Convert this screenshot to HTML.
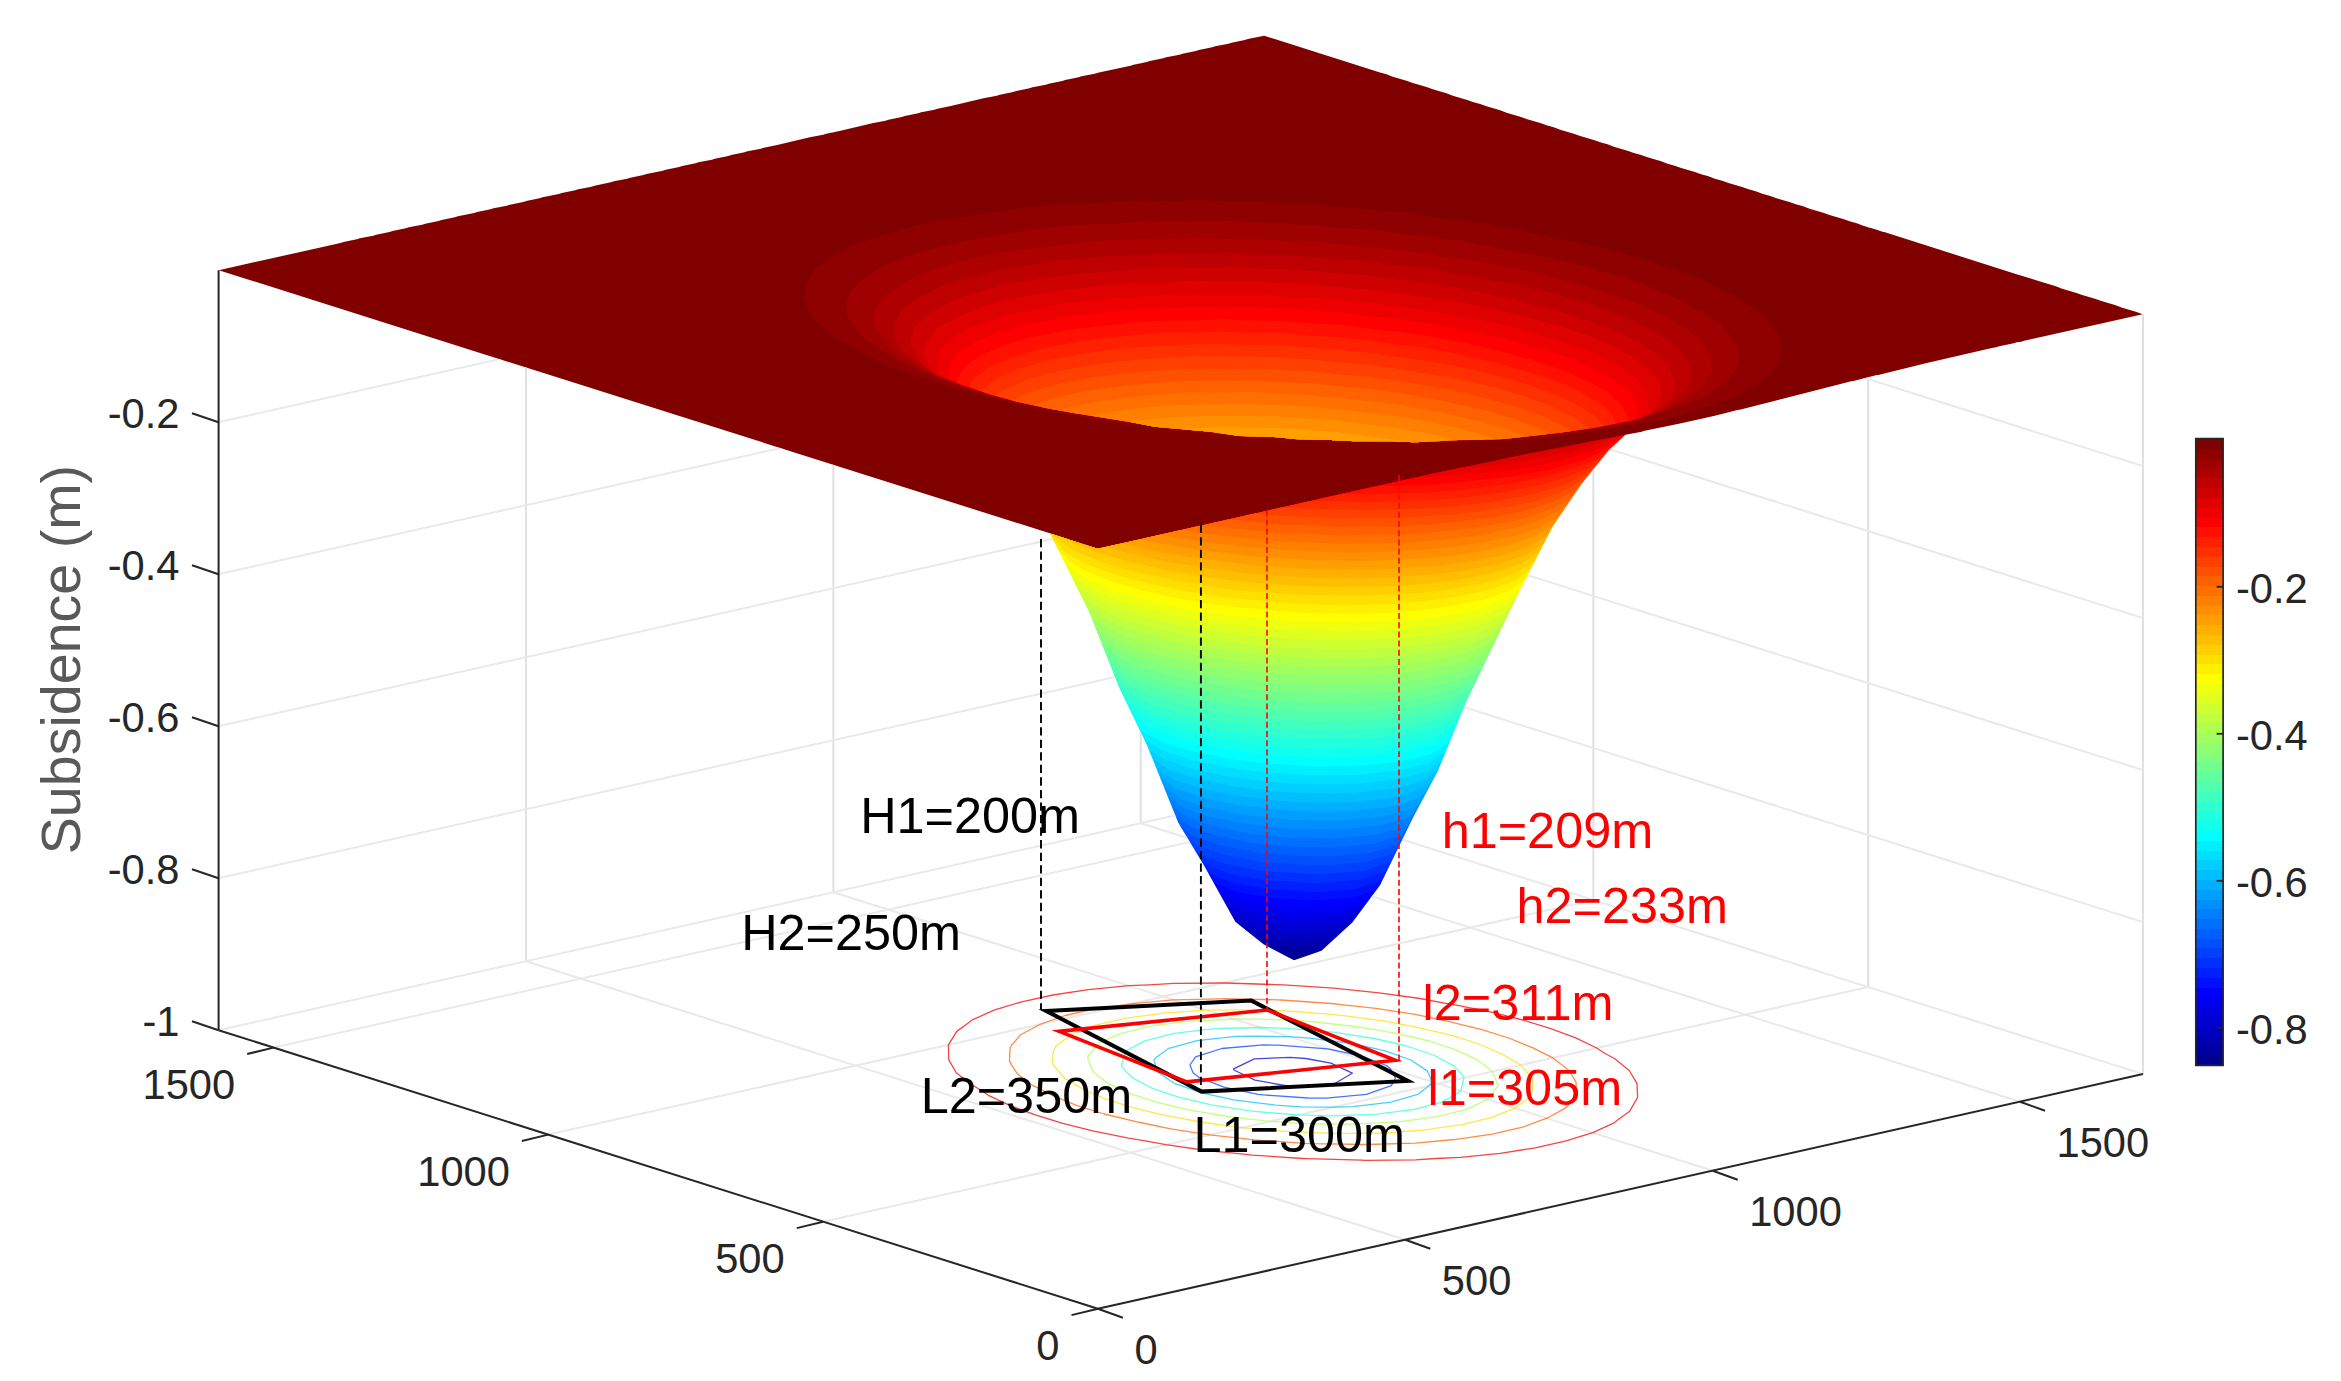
<!DOCTYPE html>
<html lang="en"><head><meta charset="utf-8"><title>Subsidence basin</title>
<style>html,body{margin:0;padding:0;background:#fff}svg{display:block}</style></head>
<body>
<svg width="2341" height="1381" viewBox="0 0 2341 1381">
<rect width="2341" height="1381" fill="#fff"/>
<g stroke="none">
<path fill="#800000" d="M2145,314.8l-1.2,1.5-2,.7-142,31.7-3,1-4.3,.6-65,15-26.7,6.7-1.3,0-184,46-61.7,13.7-26,5-2.3,1-15.2,14.5-26.6,33-29,42.6-32.4,63-54.6,113.7-27.4,67-25.6,48-32.7,67-27.7,37.3-31.5,28.9-27.3,9.6-2.7,0-30.6-16-26.7-21-2.2-2.1-31.3-56.4-25.7-42.6-2-4-29.6-74.4-28-58-30-75.3-38.5-77.2-47.4-14.6-6.3-2.4-87.3-27.3-6.4-2.3-107.3-33.7-86.3-27.7-7.4-2-80-25.6-13.6-4-93.7-30-1,0-146.3-46.7-87.4-27.3-6.3-2.4-33.7-10.3-6.3-2.3-7.3-2-6.7-2.4-1.2-1.5 0-1.3 1.9-1.8 7.3-1.4 3-1 209.3-46.6 19.4-4.7 16.3-3.3 3-1 46-10 19.3-4.7 16.4-3.3 35.6-8.4 16.4-3.3 35.6-8.3 16.4-3.4 3-1 111.3-24.6 3-1 170.7-38 3-1 75.6-16.7 3-1 13.4-2.7 3-1 13.3-2.6 3-1 13.3-2.7 3-1 13.4-2.7 3-1 16.3-3.3 3-1 13.3-2.7 3-1 13.4-2.6 3-1 13.3-2.7 3-1 13.3-2.7 3-1 13.4-2.6 3-1 13.3-2.7 3-1 13.3-2.7 3-1 13.4-2.6 3-1 15-3.4 2.6,0 115,36.7 7.4,2 6.3,2.3 13.7,4 6.3,2.4 13.7,4 6.3,2.3 13.7,4 6.3,2.3 13.7,4 6.3,2.4 7.3,2 6.4,2.3 13.6,4 6.4,2.3 13.6,4 6.4,2.4 13.6,4 6.4,2.3 7.3,2 6.3,2.3 13.7,4 6.3,2.4 13.7,4 6.3,2.3 7.4,2 6.3,2.3 13.7,4 6.3,2.4 7.3,2 6.4,2.3 13.6,4 6.4,2.3 7.3,2 6.3,2.4 13.7,4 6.3,2.3 7.4,2 6.3,2.3 7.3,2 6.4,2.4 13.6,4 6.4,2.3 7.3,2 6.3,2.3 7.4,2 6.3,2.4 13.7,4 6.3,2.3 7.3,2 6.4,2.3 13.6,4 6.4,2.4 13.6,4 6.4,2.3 7.3,2 6.3,2.3 13.7,4 6.3,2.4 1,0 131.7,42 40,12.3 6.3,2.3 13.7,4 6.3,2.4 13.7,4 6.3,2.3 13.7,4 6.3,2.3 13.7,4 7.3,2.7 1.2,1.5z"/>
<path fill="#8f0000" d="M1781.4,346.2l-1.6,12.6-7.8,14-9,7-5.8,5.4-8.7,4-9.9,6.6-24.3,9-26.2,8.4-29.8,7.3-34.5,6.2-30.6,4.8-30,4.2-11.7,.8-18.3,2.3-23.7,.6-6,.5-8-.1-21.3,2.1-11.6-.1-18.4,1.5-25.4-1.1-33.3,1.6-29.7-2.2-28.6,.8-26.2-2.9-31.5-.1-20.8-2.9-9.5-.5-7.4-1.2-20-.5-12.8-2.1-16.2-.8-32.3-5.5-24.3-1.9-12.8-2.5-15.9-1.7-22-4.6-6.3-.9-27-6.1-29-5.1-28-6.4-27.7-7.4-41.3-12.8-25-9.3-15.4-7.4-6.6-2.6-13.5-8-23.9-13-8-8.5-5.3-3.5-3.2-4.7-7.3-8-3.7-14 2.1-14 8.1-13.7 7.8-6 7.1-6.3 10.1-4.6 9.3-6 24.4-8.8 26.3-8.3 29.7-7.2 35-6.1 30.3-4.8 30.3-4.1 12-.8 18-2.2 34.7-.9 24.3-2.2 12,.1 17.7-1.4 23,1.1 35.7-1.6 30,2.4 28.3-.9 31.7,3.3 26.3-.1 20.3,2.8 8.4,.2 12.6,1.9 16,.4 10.7,1.7 18,.9 37,6.2 20,1.5 10.3,2.1 18.4,1.9 20,4.3 8.3,1.1 36.7,8.5 19.3,3.4 28,6.2 27.7,7.4 38.6,12.1 25,9.4 21.7,10 8,4.8 12,5.5 2.7,2.2 15.6,8.5 9.7,10.1 3,2 1.9,2.7 9,9.6zM1261.2,945.7l-25.7-20.4-2.2-2.1-31.3-56.4-25.7-42.6-2-4-29.6-74.4-28-58-30-75.3-38.4-76.7 .4-1 1.1-1.1 1,0 44.4,14.3 3.3,.7 30-7 13.3-2.7 3-1 13.4-2.7 3-1 13.3-2.6 3-1 13.3-2.7 3-1 13.4-2.7 3-1 13.3-2.6 3-1 16.3-3.4 3-1 13.4-2.6 3-1 13.3-2.7 3-1 16.3-3.3 3-1 16.4-3.4 3-1 122-27 56.6-11.6 1.7-.7 21.3-4 1.7-.7 104.7-20.3 1.1,1.2 0,1-16,15-26.6,33-29,42.6-32.4,63-54.6,113.7-27.4,67-25.6,48-30.4,62.3-3.6,6.7-26.4,35.3-28.8,26.5-4,3-25,8.4-1,.6-2.7,0z"/>
<path fill="#9f0000" d="M1739.1,356.2l-1.6,9.6-2.2,5.7-12.6,12.7-15.5,11.6-18,7.3-4.6,2.4-27.4,8.6-27.6,7.1-25.8,4.9-38.3,5.9-61.7,7-56,1.3-.3,.4-28.7,1.3-.3,.3-8.3,0-.4-.3-15.3-.3-.3-.4-42.4,0-.3-.3-19.3-.7-.4-.3-34.3-.7-26.3-2.6-32-.7-28.7-4.3-56-5-24.3-4.7-58.4-9.2-27-4.8-32-7.3-38.6-10.8-29-9.4-25.2-9.7-13.5-6.9-7.6-3.1-34.3-21.6-9.1-11.8-1.5-1.2-7.3-13-.4-7 1.7-8.4 2.8-6.7 13-12.6 2-1 14-10.3 19-7.5 4.4-2.2 26.3-8.1 31.7-7.8 60.6-10.4 30.4-4 14.3-.9 15.7-1.7 28.3-.6 30.7-2.5 16.3,.4 13-.9 16.3,.9 13-.8 10,.7 19.4-.9 19.6,1.8 9.4-.2 9.3,.9 20-.2 16.7,2 12,.1 16.6,2.1 12,.2 9.4,1.4 19.6,.7 36,5.6 21,1.5 11.4,2.1 17.3,1.7 21.7,4.4 6.6,.9 26,5.7 30.4,5.2 28,6.4 41.3,11.4 27.3,8.9 24.4,9.4 16,8.2 5,2 9.5,6.1 9.1,4.6 2.7,2.5 14,8.8 9.7,12.4 .6,1.8 6.9,11.5zM1261.2,945.7l-25.7-20.4-2.2-2.1-31.3-56.4-25.7-42.6-2-4-29.6-74.4-28-58-30-75.3-38.4-76.7 .4-1 1.1-1.1 1,0 44.4,14.3 3.3,.7 30-7 13.3-2.7 3-1 13.4-2.7 3-1 13.3-2.6 3-1 13.3-2.7 3-1 13.4-2.7 3-1 13.3-2.6 3-1 16.3-3.4 3-1 13.4-2.6 3-1 13.3-2.7 3-1 16.3-3.3 3-1 16.4-3.4 3-1 122-27 56.6-11.6 1.7-.7 21.3-4 1.7-.7 104.7-20.3 1.1,1.2 0,1-16,15-26.6,33-29,42.6-32.4,63-54.6,113.7-27.4,67-25.6,48-30.4,62.3-3.6,6.7-26.4,35.3-28.8,26.5-4,3-25,8.4-1,.6-2.7,0z"/>
<path fill="#af0000" d="M1712.3,366.8l-1.4,7.4-9.3,13.6-8.1,5.2-7.5,6.5-14,6.3-6.9,3.7-21.3,7.7-17.6,4.5-1.7,0-27.7,5.6-24.3,3.4-2.3,.6-66.4,7.7-56,1.3-.3,.4-28.7,1.3-.3,.3-8.3,0-.4-.3-15.3-.3-.3-.4-42.4,0-.3-.3-19.3-.7-.4-.3-34.3-.7-26.3-2.6-32-.7-25.7-4-61-5.7-22.3-4.3-50.4-8.3-4-.4-29.6-5.3-29-6.3-28-7.7-27-9-27.4-10.7-18.1-8.1-7.5-5.4-9.6-5-9.1-8.6-3.9-3-2.4-4.2-7.9-8.5-1.9-6.3-1.2-8 1.7-8.4 9.6-13.3 10.3-6.5 6.4-5.3 11.9-5.2 9-4.7 24.7-8.8 29-7.4 33-6.2 11.7-1.8 59.7-6.7 30-2.8 19.3-.3 10-.8 14.7,.3 15-1 9,.2 20.3-1.1 23.7,1.5 34.6-.5 23.4,2.3 5.6,0 6.4,.6 22.6,.2 18,2.3 11,.3 17.4,2.5 11,.5 7.3,1.1 21.7,1.4 21.6,3.8 6.7,.6 18.7,3.5 9.6,1 28.4,4 14.3,3.1 14,2.5 28,6.5 27.7,7.3 24.6,7.2 27,8.8 24.7,9.4 5.7,3.1 16,6.9 10.3,7.3 7,3.6 7.1,6.6 6.6,5 4,6.7 5.7,6 1.5,4.7zM1261.2,945.7l-25.7-20.4-2.2-2.1-31.3-56.4-25.7-42.6-2-4-29.6-74.4-28-58-30-75.3-38.4-76.7 .4-1 1.1-1.1 1,0 44.4,14.3 3.3,.7 30-7 13.3-2.7 3-1 13.4-2.7 3-1 13.3-2.6 3-1 13.3-2.7 3-1 13.4-2.7 3-1 13.3-2.6 3-1 16.3-3.4 3-1 13.4-2.6 3-1 13.3-2.7 3-1 16.3-3.3 3-1 16.4-3.4 3-1 122-27 56.6-11.6 1.7-.7 21.3-4 1.7-.7 104.7-20.3 1.1,1.2 0,1-16,15-26.6,33-29,42.6-32.4,63-54.6,113.7-27.4,67-25.6,48-30.4,62.3-3.6,6.7-26.4,35.3-28.8,26.5-4,3-25,8.4-1,.6-2.7,0z"/>
<path fill="#bf0000" d="M1691.6,377.8l-1.1,4-5.7,11-13.9,11.7-7.7,3.5-7.4,4.3-17.6,6.4-12,3-1.7,0-27.7,5.6-31.3,4.7-61.7,7-56,1.3-.3,.4-28.7,1.3-.3,.3-8.3,0-.4-.3-15.3-.3-.3-.4-42.4,0-.3-.3-19.3-.7-.4-.3-34.3-.7-26.3-2.6-32-.7-25.7-4-61-5.7-22.3-4.3-50.4-8.3-4-.4-29.6-5.3-29-6.3-28-7.7-27-9-27.4-10.7-3.6-1.8-6.7-4.7-9.3-5.6-3.5-4-9.9-7.7-7.1-13-.4-12.3 .9-2.8 6.3-11.8 14.7-11.9 9-3.9 11-6.4 25.4-8.6 29.2-7.3 32.4-6.4 26-4 30-3.7 29.6-2.2 16.4-.2 13.3-1.3 6.3,0 23.4-1.7 32.6,.9 26-1.1 21.7,1.6 7.3-.1 6.7,.6 22.7-.1 26.3,2.8 31.3,1.1 21.4,3 7.3,.4 13.3,2.1 15,1 9,1.5 19.7,1.8 20.7,3.9 7.6,1 27.7,5.8 28.7,4.9 28,6.3 41.6,11.5 26.6,8.9 14.1,6.2 9.3,3.4 19.7,10.6 3.5,2.5 14.2,8.2 5.6,6.3 7.7,5.9 7.4,12.9zM1261.2,945.7l-25.7-20.4-2.2-2.1-31.3-56.4-25.7-42.6-2-4-29.6-74.4-28-58-30-75.3-38.4-76.7 .4-1 1.1-1.1 1,0 44.4,14.3 3.3,.7 30-7 13.3-2.7 3-1 13.4-2.7 3-1 13.3-2.6 3-1 13.3-2.7 3-1 13.4-2.7 3-1 13.3-2.6 3-1 16.3-3.4 3-1 13.4-2.6 3-1 13.3-2.7 3-1 16.3-3.3 3-1 16.4-3.4 3-1 122-27 56.6-11.6 1.7-.7 21.3-4 1.7-.7 104.7-20.3 1.1,1.2 0,1-16,15-26.6,33-29,42.6-32.4,63-54.6,113.7-27.4,67-25.6,48-30.4,62.3-3.6,6.7-26.4,35.3-28.8,26.5-4,3-25,8.4-1,.6-2.7,0z"/>
<path fill="#cf0000" d="M1675.2,382.8l-3.8,13.4-1,2-3.9,3.2-7.7,8.4-6,3.5-14.6,5.4-12,3-1.7,0-20.7,4.3-15.6,2.7-25.4,3.6-59,6.7-56,1.3-.3,.4-28.7,1.3-.3,.3-8.3,0-.4-.3-15.3-.3-.3-.4-42.4,0-.3-.3-19.3-.7-.4-.3-34.3-.7-26.3-2.6-32-.7-28.7-4.3-56-5-24.3-4.7-50.4-8.3-4-.4-29.6-5.3-29-6.3-28-7.7-27-9-27.7-11-8.5-5.5-9.5-11-1.5-4.7-4.7-8.6-.2-3.7 3.9-12 1.8-3.3 6-4.7 7.4-7.6 10-5.1 9-5.2 7.3-2.4 17-6.8 28.3-7.5 16.7-3.3 30.3-5.2 30-3.6 17.7-1.1 42.3-4 18.4-.2 11-.7 14.6,.4 14.7-.8 10,.4 19.3-.8 21,1.5 8-.2 8,.7 21.4-.1 18.3,2 10.3,.1 14.4,1.8 14.6,.4 10.4,1.4 18.3,1 35.7,5.5 21.3,2 10.7,2 18,2.3 28,5.5 28,6.4 28.9,7.2 29.4,8.2 26.7,9.1 23.3,9.6 21,10.1 6.7,5.4 10,5.9 11,12.1 2.9,8.6 2.9,5zM1261.2,945.7l-25.7-20.4-2.2-2.1-31.3-56.4-25.7-42.6-2-4-29.6-74.4-28-58-30-75.3-38.4-76.7 .4-1 1.1-1.1 1,0 44.4,14.3 3.3,.7 30-7 13.3-2.7 3-1 13.4-2.7 3-1 13.3-2.6 3-1 13.3-2.7 3-1 13.4-2.7 3-1 13.3-2.6 3-1 16.3-3.4 3-1 13.4-2.6 3-1 13.3-2.7 3-1 16.3-3.3 3-1 16.4-3.4 3-1 122-27 56.6-11.6 1.7-.7 21.3-4 1.7-.7 104.7-20.3 1.1,1.2 0,1-16,15-26.6,33-29,42.6-32.4,63-54.6,113.7-27.4,67-25.6,48-30.4,62.3-3.6,6.7-26.4,35.3-28.8,26.5-4,3-25,8.4-1,.6-2.7,0z"/>
<path fill="#df0000" d="M1661.4,393.8l-2.8,10.7-8.4,9.7-12,4.5-12,3-1.7,0-29.7,6-32,4.6-59,6.7-56,1.3-.3,.4-28.7,1.3-.3,.3-8.3,0-.4-.3-15.3-.3-.3-.4-42.4,0-.3-.3-19.3-.7-.4-.3-34.3-.7-26.3-2.6-26.4-.4-.3-.3-5.3,0-28.7-4.3-56-5-24.3-4.7-50.4-8.3-4-.4-29.6-5.3-29-6.3-28-7.7-27-9-24.7-9.7-10-10.1-3-10-.4-4 3.6-12 11.8-12.7 14-7.1 5.3-3.5 24.4-9 27.6-7.6 33.4-6.3 33-4.6 30-3.5 29.6-2.3 27-.2 32-1.8 21.7,.9 7.7-.3 8,.5 21.3-.4 20.3,1.7 37.7,1.1 30,3.6 27.3,1.5 17,2.6 11.7,1 27.7,4.8 29,3.7 28.3,5.3 28,6.3 21.7,5.6 29,8.4 26.3,8.9 23.3,9.5 9,5.5 11,5.2 14.2,11.5 11.8,12.1 3,8.9zM1261.2,945.7l-25.7-20.4-2.2-2.1-31.3-56.4-25.7-42.6-2-4-29.6-74.4-28-58-30-75.3-38.4-76.7 .4-1 1.1-1.1 1,0 44.4,14.3 3.3,.7 30-7 13.3-2.7 3-1 13.4-2.7 3-1 13.3-2.6 3-1 13.3-2.7 3-1 13.4-2.7 3-1 13.3-2.6 3-1 16.3-3.4 3-1 13.4-2.6 3-1 13.3-2.7 3-1 16.3-3.3 3-1 16.4-3.4 3-1 122-27 56.6-11.6 1.7-.7 33-6.6 13.7-2 27.3-5.2 15-3.8 38.7-7.4 1.1,1.2 0,1-16,15-26.6,33-29,42.6-32.4,63-54.6,113.7-27.4,67-25.6,48-30.4,62.3-3.6,6.7-26.4,35.3-28.8,26.5-4,3-25,8.4-1,.6-2.7,0z"/>
<path fill="#ef0000" d="M1648.7,406.8l-1.1,4.4-4.9,5.6-4.5,1.9-12,3-1.7,0-27.7,5.6-31.3,4.7-61.7,7-56,1.3-.3,.4-28.7,1.3-.3,.3-8.3,0-.4-.3-15.3-.3-.3-.4-42.4,0-.3-.3-19.3-.7-.4-.3-34.3-.7-26.3-2.6-32-.7-28.7-4.3-56-5-24.3-4.7-50.4-8.3-4-.4-29.6-5.3-29-6.3-28-7.7-27-9-18.7-7.4-5-5.1-1-3.3-.8-10.7 1.6-5.7 11.6-12.6 17.3-11.4 17-6.1 7-3.1 28.3-7.5 32.7-6.5 24.3-3.7 30-3.5 29.7-1.8 10.3-.1 19.3-1.6 10,0 19.4-1.1 25,1 33.6-.5 32.7,2.4 25.3,.4 19.7,2.4 9,.4 14.7,2 14,.8 8.6,1.3 20,1.7 28.4,4.6 20.6,4 36,5.9 28,6.3 44,12.2 26,9 12,5.5 10.7,4.2 18.3,10.8 15.6,11.3 6.4,10 2.8,3 .7,2zM1261.2,945.7l-25.7-20.4-2.2-2.1-31.3-56.4-25.7-42.6-2-4-29.6-74.4-28-58-30-75.3-38.4-76.7 .4-1 1.1-1.1 1,0 44.4,14.3 3.3,.7 30-7 13.3-2.7 3-1 13.4-2.7 3-1 13.3-2.6 3-1 13.3-2.7 3-1 13.4-2.7 3-1 13.3-2.6 3-1 16.3-3.4 3-1 13.4-2.6 3-1 13.3-2.7 3-1 16.3-3.3 3-1 16.4-3.4 3-1 22.3-4.6 3-1 118.7-25.9 20.3-1.3 30-3.6 24.7-3.8 32-6.5 28.3-7.7 7.3-3.4 13.8-5 7.6-1.5 1.1,1.2 0,1-16,15-26.6,33-29,42.6-32.4,63-54.6,113.7-27.4,67-25.6,48-30.4,62.3-3.6,6.7-26.4,35.3-28.8,26.5-4,3-25,8.4-1,.6-2.7,0z"/>
<path fill="#ff0000" d="M1637.2,417.8l-.4,1-10.6,2.9-1.7,0-29.7,6-32,4.6-59,6.7-56,1.3-.3,.4-28.7,1.3-.3,.3-8.3,0-.4-.3-15.3-.3-.3-.4-42.4,0-.3-.3-19.3-.7-.4-.3-34.3-.7-26.3-2.6-32-.7-28.7-4.3-56-5-24.3-4.7-50.4-8.3-4-.4-29.6-5.3-29-6.3-28-7.7-27-9-13.5-5.5 .1-13 9.4-13.7 17.6-11.3 7-2.5 15.7-6.9 28-7.7 32.7-6.4 16.6-2.6 29.7-3.4 22.3-1.2 37.4-3.1 18.6,0 10.7-.6 14,.5 15.3-.6 12.4,.6 17-.4 17,1.4 12,0 14,1.3 15,.3 11.6,1.4 17.4,.7 28,3.9 29,2.4 15.3,2.7 13.3,1.6 56.4,11 27.6,6.1 37.7,10.5 25.7,9 22,10 19,10.6 4,4 10.6,7.5 5.8,8.9 2.3,4.3zM1261.2,945.7l-25.7-20.4-2.2-2.1-31.3-56.4-25.7-42.6-2-4-29.6-74.4-28-58-30-75.3-38.4-76.7 .4-1 1.1-1.1 1,0 44.4,14.3 3.3,.7 314.7-70.6 69-4.8 30-3.6 17-2.7 32-6.4 28-8 16-7.3 6-2.2 11.5-7.6 2.5-.5 1.1,1.2 0,1-16,15-26.6,33-29,42.6-32.4,63-54.6,113.7-27.4,67-25.6,48-30.4,62.3-3.6,6.7-26.4,35.3-28.8,26.5-4,3-25,8.4-1,.6-2.7,0z"/>
<path fill="#ff1000" d="M1628.1,420.8l-1.9,.9-1.7,0-27.7,5.6-24.3,3.4-2.3,.6-66.4,7.7-56,1.3-.3,.4-28.7,1.3-.3,.3-8.3,0-.4-.3-15.3-.3-.3-.4-42.4,0-.3-.3-19.3-.7-.4-.3-34.3-.7-26.3-2.6-32-.7-28.7-4.3-56-5-24.3-4.7-58.4-9.3-27.3-5-4.7-1.4-22.6-4.6-28-7.7-30.4-10.4-1.2-.8 0-3.3 2.9-6.1 5.7-8.1 17.4-11.1 22.2-9.6 27.7-7.9 32.3-6.3 9.4-1.4 59.6-6.5 29.7-2.1 32.3,0 26.7-1.1 20.7,1 8.3-.1 8.3,.6 21,.1 24,2.2 33.7,1.6 41,5.5 16,1.3 8.7,1.5 20,2.4 28.3,5.3 28,6.1 29,7.1 26.7,7.5 28.3,10 22.7,9.8 3,2 16,8.5 9.3,9.3 3.9,2.8 7.4,12.8zM1261.2,945.7l-25.7-20.4-2.2-2.1-31.3-56.4-25.7-42.6-2-4-29.6-74.4-28-58-30-75.3-38.4-76.7 .4-1 1.1-1.1 1,0 44.4,14.3 3.3,.7 280-62.9 44.7-.5 30-2.3 59.6-6.6 9.7-1.5 32-6.4 27.7-8.3 21.3-9.4 3.3-2.7 13.4-8.5 1.5,1.6-11.4,11-26.6,33-29,42.6-32.4,63-54.6,113.7-27.4,67-25.6,48-30.4,62.3-3.6,6.7-26.4,35.3-28.8,26.5-4,3-25,8.4-1,.6-2.7,0z"/>
<path fill="#ff2000" d="M1615.8,423.5l-19,3.8-31.3,4.7-61.7,7-56,1.3-.3,.4-28.7,1.3-.3,.3-8.3,0-.4-.3-15.3-.3-.3-.4-42.4,0-.3-.3-19.3-.7-.4-.3-34.3-.7-26.3-2.6-32-.7-28.7-4.3-56-5-24.3-4.7-58.4-9.3-27.3-5-4.7-1.4-22.6-4.6-25.7-7-19.3-6.4-3.2-1.5 3-6 2.2-2.9 5.6-3.5 10.4-8.2 23-9.2 27-8 32.6-6.3 31.7-4.5 29.7-3.2 30-1.9 20.6,0 38.4-1.5 28.3,1.4 30,.1 33.3,3 24.4,1.1 16.3,2.2 12.3,.9 24.7,3.8 32,3.9 28.7,5.1 27.6,6.1 24.4,6.1 28.6,8.4 26,9.1 22.4,9.7 8,5.5 10.3,5.5 12.1,12zM1261.2,945.7l-25.7-20.4-2.2-2.1-31.3-56.4-25.7-42.6-2-4-29.6-74.4-28-58-30-75.3-38.4-76.7 .4-1 1.1-1.1 1,0 44.4,14.3 3.3,.7 245.7-55.2 20.6,.9 35.7-1.5 23.3-.1 29.7-2 30-3.3 32-4.7 32-6.3 27-8.2 22.7-9.4 11.2-9.4 3.1-2 1.7,1.7-29.5,36-29,42.6-32.4,63-54.6,113.7-27.4,67-25.6,48-30.4,62.3-3.6,6.7-26.4,35.3-28.8,26.5-4,3-25,8.4-1,.6-2.7,0z"/>
<path fill="#ff3000" d="M1604.2,425.5l-7.4,1.8-31.3,4.7-61.7,7-56,1.3-.3,.4-28.7,1.3-.3,.3-8.3,0-.4-.3-15.3-.3-.3-.4-42.4,0-.3-.3-19.3-.7-.4-.3-34.3-.7-26.3-2.6-32-.7-28.7-4.3-56-5-24.3-4.7-58.4-9.3-27.3-5-4.7-1.4-22.6-4.6-28-7.7-7-2.4-1.1-.8 15.1-12.4 15.3-6.1 7-3.5 27.7-7.8 32.3-6.5 25.3-3.7 30-3.3 29.7-1.7 10,0 19.7-1.2 11.6,.1 17.7-.7 21,1 37.3,.3 19,1.8 10,.3 13.4,1.5 15.3,.7 10.7,1.4 18.3,1.4 37.7,5.9 19,2.3 28.3,4.9 28,6.1 19.7,5 28.6,8.3 26,9.3 8,4.1 13.9,5.9 12.1,8.4 4.7,2.5zM1261.2,945.7l-25.7-20.4-2.2-2.1-31.3-56.4-25.7-42.6-2-4-29.6-74.4-28-58-30-75.3-38.4-76.7 .4-1 1.1-1.1 1,0 44.4,14.3 3.3,.7 211.3-47.5 32.4,.1 23,1.1 19.6-.8 10,0 17.4-1.1 12-.1 29.6-1.8 30.4-3.4 25.6-3.9 31.7-6.5 27.3-8 7.7-3.9 14.3-5.9 14-11.6 1.5,1.4-.3,1-22.3,27.4-29,42.6-32.4,63-54.6,113.7-27.4,67-25.6,48-30.4,62.3-3.6,6.7-26.4,35.3-28.8,26.5-4,3-25,8.4-1,.6-2.7,0z"/>
<path fill="#ff4000" d="M1588.2,428.5l-25.4,3.8-59,6.7-56,1.3-.3,.4-28.7,1.3-.3,.3-8.3,0-.4-.3-15.3-.3-.3-.4-42.4,0-.3-.3-19.3-.7-.4-.3-34.3-.7-26.3-2.6-32-.7-28.7-4.3-56-5-24.3-4.7-50.4-8.3-4-.4-29.6-5.3-29-6.3-18.4-5.1-2.6-1.1 6.3-5 8-3.2 13.3-6.6 27.4-8 32-6.4 20.3-3 30-3.3 59.3-3.4 18,.1 11.4-.4 13,.6 16-.2 14.6,.9 14.7,0 12.7,1.2 16.3,.4 22,2.5 35.3,2.7 28.7,4 56.3,9.4 28,6.2 15.4,3.8 28.6,8.4 25.7,9.3 12.7,6.4 8.6,3.7 16,11zM1261.2,945.7l-25.7-20.4-2.2-2.1-31.3-56.4-25.7-42.6-2-4-29.6-74.4-28-58-30-75.3-38.4-76.7 .4-1 1.1-1.1 1,0 44.4,14.3 3.3,.7 183-41.2 10.7,.3 15.3,1.4 16.7,0 12.3,.7 13.7-.3 15.6,.7 13-.5 16.4,.1 59.3-3.5 30-3.5 20.3-3.1 31.7-6.5 27-8.1 14-7.2 7-2.9 13.7-11.7 2,.7 0,.7-16.5,20.4-29,42.6-32.4,63-54.6,113.7-27.4,67-25.6,48-30.4,62.3-3.6,6.7-26.4,35.3-28.8,26.5-4,3-25,8.4-1,.6-2.7,0z"/>
<path fill="#ff5000" d="M1570.5,430.8l-.3,.4-7.4,1.1-59,6.7-56,1.3-.3,.4-28.7,1.3-.3,.3-8.3,0-.4-.3-15.3-.3-.3-.4-42.4,0-.3-.3-19.3-.7-.4-.3-34.3-.7-26.3-2.6-32-.7-28.7-4.3-56-5-24.3-4.7-50.4-8.3-4-.4-29.6-5.3-29-6.3-3.7-1.2 15.7-8 27-8.1 32.3-6.4 14.7-2.2 29.6-3.3 59.7-3.9 35,.3 23.3-.4 36,2 22,.5 31,3.4 26.7,2 15.3,2.4 13.4,1.5 56.3,10 28,6.1 39.6,11.1 25.1,9.2 20.6,10.2zM1261.2,945.7l-25.7-20.4-2.2-2.1-31.3-56.4-25.7-42.6-2-4-29.6-74.4-28-58-30-75.3-38.4-76.7 .4-1 1.1-1.1 1,0 44.4,14.3 3.3,.7 156.3-35.2 24,2.4 20,.5 9,.9 10,0 19,1.1 21.4-.4 8,.3 29.3-.1 59.3-4 45-5.8 31.7-6.5 26.7-8.3 20-10.3 13-11.4 2,.7 .1,.9-9.6,11.7-28,41-26.4,50.6-61.6,127.7-27.4,67-25.6,48-30.4,62.3-3.6,6.7-26.4,35.3-28.8,26.5-4,3-25,8.4-1,.6-2.7,0z"/>
<path fill="#ff6000" d="M1549.8,433.5l-6.6,1.2-39.4,4.3-56,1.3-.3,.4-28.7,1.3-.3,.3-8.3,0-.4-.3-15.3-.3-.3-.4-42.4,0-.3-.3-19.3-.7-.4-.3-34.3-.7-26.3-2.6-32-.7-28.7-4.3-56-5-24.3-4.7-58.4-9.3-27.3-5-10.9-2.9 27.6-8.7 32-6.3 38.3-4.7 30.7-2.8 29.6-1.7 27.4,.3 31.3-.6 28.7,1.8 29.3,.8 39,4.2 18.7,1.3 28.3,3.7 28.3,4.9 28.4,5.7 34,7.6 29,8.4 24.6,9.3zM1261.2,945.7l-25.7-20.4-2.2-2.1-31.3-56.4-25.7-42.6-2-4-29.6-74.4-28-58-30-75.3-38.4-76.7 .4-1 1.1-1.1 1,0 44.4,14.3 3.3,.7 129.7-29.2 16,1.2 35,3.7 26,.7 32,1.8 29-.6 29.6,.2 29.7-1.8 30-2.8 39.7-5 31.6-6.6 25.7-8.2 20.7-10.4 7.4-8.2 4.6-4 1.6,1.7-.5,1-2.6,3-29,42.6-25.4,49-61.6,127.7-27.4,67-25.6,48-30.4,62.3-3.6,6.7-26.4,35.3-28.8,26.5-4,3-25,8.4-1,.6-2.7,0z"/>
<path fill="#ff7000" d="M1525.5,436.5l-21.7,2.5-56,1.3-.3,.4-28.7,1.3-.3,.3-8.3,0-.4-.3-15.3-.3-.3-.4-42.4,0-.3-.3-19.3-.7-.4-.3-34.3-.7-26.3-2.6-32-.7-28.7-4.3-56-5-24.3-4.7-50.4-8.3-2,0-18.6-3.5 7-2.3 32.3-6.5 33.7-4.3 30-3 29.3-1.5 19.7,.2 39-.7 23.6,1.4 34.4,1.2 18,2 11,.6 57,6.6 28.3,4.8 28,5.8 29.7,7.1 29,8.4zM1261.2,945.7l-25.7-20.4-2.2-2.1-31.3-56.4-25.7-42.6-2-4-29.6-74.4-28-58-30-75.3-38.4-76.7 .4-1 1.1-1.1 1,0 44.4,14.3 3.3,.7 104.3-23.6 76.7,7.8 32,.9 26,1.6 37-.8 21.7,.1 29.6-1.6 27.4-2.7 33-4.3 35.6-7.2 25.7-8.5 20.3-10 9.4-10.2 .5,0 .1-.8 2,.7 .1,.7-25.2,37-32.4,63-54.6,113.7-27.4,67-25.6,48-30.4,62.3-3.6,6.7-26.4,35.3-28.8,26.5-4,3-25,8.4-1,.6-2.7,0z"/>
<path fill="#ff8000" d="M1496.8,438.8l-2.6,.1-.4,.4-9.6,0-.4,.4-10.3,0-.3,.3-25.4,.3-.3,.4-28.7,1.3-.3,.3-8.3,0-.4-.3-15.3-.3-.3-.4-42.4,0-.3-.3-19.3-.7-.4-.3-34.3-.7-26.3-2.6-26.4-.4-.3-.3-5.3,0-28.7-4.3-56-5-24.3-4.7-28-4.7-2,0-9.1-1.8 12.1-2.5 36.6-4.9 21.7-2 29.7-1.5 58.6-.7 18.4,1.1 10.6,.1 12,.9 17,.5 13.4,1.5 15.6,.9 26.4,3.4 30.6,3.4 28.4,4.8 28,5.8 25.6,6.3zM1261.2,945.7l-25.7-20.4-2.2-2.1-31.3-56.4-25.7-42.6-2-4-29.6-74.4-28-58-30-75.3-38.4-76.7 .4-1 1.1-1.1 1,0 46.7,15 83-18.6 13.3,2.2 57,6.6 13.4,.8 15.6,1.7 37.7,1.3 20.3,1.2 58.7-.9 29.7-1.5 30-3.2 29-4.1 31.6-6.7 26.4-8.3 5.6-3.4 14-6.9 6.7-7.3 2,.6 .1,1-16.9,24.6-32.4,63-54.6,113.7-27.4,67-25.6,48-30.4,62.3-3.6,6.7-26.4,35.3-28.8,26.5-4,3-25,8.4-1,.6-2.7,0z"/>
<path fill="#ff8f00" d="M1458.2,440.2l-17,.5-.4,.3-11,.3-5.6,.7-5.4,0-.3,.3-8.3,0-.4-.3-15.3-.3-.3-.4-42.4,0-.3-.3-19.3-.7-.4-.3-34.3-.7-26.3-2.6-32-.7-28.7-4.3-56-5-26.7-5.2 33.4-3.6 59-2.4 29.3,.2 12.7,.8 16.6,.1 57.7,3.8 35.3,4.7 21.7,2.4 28.3,4.7zM1261.2,945.7l-25.7-20.4-2.2-2.1-31.3-56.4-25.7-42.6-2-4-29.6-74.4-28-58-30-75.3-38.4-76.7 .4-1 1.1-1.1 1,0 46.7,15 62.3-13.8 34.4,5.9 57,6.9 18,1 11,1.2 58,2.5 29.3,0 29.7-1.1 29.6-1.5 29.7-3.2 25-3.6 31.3-6.6 26-8.4 11-6.7 8-3.9 3.7-4 2,.6 .1,.8-8.9,13-32.4,63-54.6,113.7-27.4,67-25.6,48-30.4,62.3-3.6,6.7-26.4,35.3-28.8,26.5-4,3-25,8.4-1,.6-2.7,0z"/>
<path fill="#ff9f00" d="M1408,441.8l-13.5-.2-.3-.3-42.4,0-.3-.3-19.3-.7-.4-.3-34.3-.7-26.3-2.6-32-.7-25.7-4-31-2.8 8-.8 29.7-1.3 58.3,1 57.7,3.9 57,7.4zM1261.2,945.7l-25.7-20.4-2.2-2.1-31.3-56.4-25.7-42.6-2-4-29.6-74.4-28-58-30-75.3-38.4-76.7 .4-1 1.1-1.1 1,0 46.7,15 43-9.4 25.7,5.4 28.3,4.6 57,7.1 58,3.8 58.3,.9 59.4-2.9 29.6-3.2 20.7-3 31.3-6.7 25.7-8.5 19.1-11.3-.1-.4 2,.7-.2,1.4-33,63.6-54.6,113.7-27.4,67-25.6,48-30.4,62.3-3.6,6.7-26.4,35.3-28.8,26.5-4,3-25,8.4-1,.6-2.7,0z"/>
<path fill="#ffaf00" d="M1261.2,945.7l-25.7-20.4-2.2-2.1-31.3-56.4-25.7-42.6-2-4-29.6-74.4-28-58-30-75.3-38.4-76.7 .4-1 1.1-1.1 1,0 46.7,15 20.7-4.7 4.6-.5 15.7,3.8 28,5.9 28.3,4.6 57,7.4 58,3.8 58.4,.7 29.6-1.3 38.7-2.7 37-4.8 31.3-6.7 25.7-8.7 17.3-10.7 3.9-6.6 .5-.4-.2-.3 .7-.3-.4-.4 .9-.1 1.1,.5-1.3-1.4 .8-.1 1.4,.6 .1,.9-33,63.6-54.6,113.7-27.4,67-25.6,48-30.4,62.3-3.6,6.7-26.4,35.3-28.8,26.5-4,3-25,8.4-1,.6-2.7,0z"/>
<path fill="#ffbf00" d="M1261.2,945.7l-25.7-20.4-2.2-2.1-31.3-56.4-25.7-42.6-2-4-29.6-74.4-28-58-30-75.3-38.4-76.7 .4-1 1.1-1.1 1,0 46.7,15 9-1.7 18,5.3 42.3,9.5 56.7,8.8 28.7,3.3 57.6,3.9 58.7,.6 29.3-1.3 34.7-2.6 37.3-4.7 31.4-6.7 25-8.8 17.3-10.8 3.1-4.7-.3-.3 .7-.3-.3-.4 .7-.3-.4-.3 .7-.4-.3-.3 .8-.3 1,.7-1.2-1.4 1-1-.3-.3 .7-.4-.3-.3 .7-.3-.3-.4 .7-.1 1.3,.7-1.2,3.4-.7,.7-4.3,9-23,44.3-54.6,113.7-27.4,67-25.6,48-30.4,62.3-3.6,6.7-26.4,35.3-28.8,26.5-4,3-25,8.4-1,.6-2.7,0z"/>
<path fill="#ffcf00" d="M1322.8,952.7l-27.3,9.6-2.7,0-30.6-16-26.7-21-2.2-2.1-31.3-56.4-20.3-33.6-7.4-13-29.6-74.4-28-58-30-75.3-38.4-76.7 1.5-2.1 5.4,1.3 12.3,4.1 8,4.6 24,9.4 28.3,8.5 39.4,8.8 56.6,9.1 28.7,3.2 57.7,3.9 58.6,.5 29.4-1.2 30-2.5 37.6-4.7 31.4-6.7 24.3-8.8 17.7-11.1 1.7-2.3-.2-.3 .6-.3-.3-.4 .7-.3-.3-.3 .7-.4-.4-.3 .8-.3-.3-.4 2,.7-.6,2-21.3,41.3-54.6,113.7-27.4,67-25.6,48-32.7,67-27.7,37.3zM1544.8,547l-1.8-1.8 1.1-1-.3-.4 .7-.1 1.5,.8z"/>
<path fill="#ffdf00" d="M1322.8,952.7l-27.3,9.6-2.7,0-30.6-16-26.7-21-2.2-2.1-31.3-56.4-20.3-33.6-7.4-13-29.6-74.4-28-58-30-75.3-38.4-76.7 1.5-2.1 1,0 2.6,1.1 7.4,7.5 18.4,10.6 23.6,9.5 28.4,8.4 36.3,8.1 28.3,5.1 28.4,4.4 28.6,3 57.7,4 58.3,.4 29.7-1.2 26.3-2.2 37-4.8 31.4-6.7 24.3-8.7 18.1-12-.3-.4 .7-.3-.3-.3 .7-.4-.3-.3 .7-.3-.3-.4 2.1,.7-3.6,8-12.7,24.3-54.6,113.7-27.4,67-25.6,48-32.7,67-27.7,37.3zM1539.5,557.3l-1.8-1.8 .7-.3-.2-.4 .6-.2 1.6,.9z"/>
<path fill="#ffef00" d="M1322.8,952.7l-27.3,9.6-2.7,0-30.6-16-26.7-21-2.2-2.1-31.3-56.4-20.3-33.6-7.4-13-29.6-74.4-28-58-30-75.3-35.6-71.3 .1-.9 2-.7 6.3,5.8 5,6.1 18.7,10.7 23.3,9.5 28.7,8.5 33.3,7.5 27.3,5.1 28.4,4.4 57.6,5.4 29,1.6 29,.6 29.4-.3 29.6-1.2 30-2.7 29.4-4 31.3-6.9 24.7-8.7 7.9-6.2 9-5.6-.3-.4 2.1,.7-.6,2-10,19.3-54.6,113.7-27.4,67-25.6,48-32.7,67-27.7,37.3z"/>
<path fill="#ffff00" d="M1322.8,952.7l-27.3,9.6-2.7,0-30.6-16-26.7-21-2.2-2.1-31.3-56.4-20.3-33.6-7.4-13-29.6-74.4-28-58-30-75.3-30.4-60.7-.8-2.6 2-.7 3,2.8 7.7,9.4 18.6,10.8 23.4,9.5 28.3,8.5 32.7,7.5 25.3,4.8 28.3,4.3 57.4,5.5 29,1.4 29.3,.7 29.3-.5 29.4-1.1 30-2.9 26-3.6 31-6.8 24.3-8.9 15.3-11.5 2.1,.8-.9,2.6-59.3,122.7-27.4,67-25.6,48-32.7,67-27.7,37.3z"/>
<path fill="#efff10" d="M1322.8,952.7l-27.3,9.6-2.7,0-30.6-16-26.7-21-2.2-2.1-31.3-56.4-20.3-33.6-7.4-13-29.6-74.4-28-58-30-75.3-25-50-1.2-3.5 2-.6 9.7,11.8 14,8 4,2.7 23.6,9.6 28,8.4 32.4,7.5 22.3,4.2 28.3,4.3 57.7,5.7 58,2.1 59-1.9 30-3 22.3-3 31-6.9 8-3.3 16-5.7 14.4-11.4 2.3,1-55.8,116-27.4,67-25.6,48-32.7,67-27.7,37.3z"/>
<path fill="#dfff20" d="M1322.8,952.7l-27.3,9.6-2.7,0-30.6-16-26.7-21-2.2-2.1-31.3-56.4-20.3-33.6-7.4-13-29.6-74.4-28-58-30-75.3-19.3-38.7-.9-2.7 2-.7 7.3,9 10.7,6.1 7,4.8 23.3,9.6 28,8.5 32.7,7.5 19.3,3.6 28.4,4.3 57.3,5.8 58.3,2 29.4-.7 29.6-1.3 11-1 37.4-4.7 31.3-6.9 11.7-4.9 12-4.2 9.6-7.6 4.4-4.2 2.1,.7-1.6,4.4-50,103.3-27.4,67-25.6,48-32.7,67-27.7,37.3z"/>
<path fill="#cfff30" d="M1322.8,952.7l-27.3,9.6-2.7,0-30.6-16-26.7-21-2.2-2.1-31.3-56.4-20.3-33.6-7.4-13-29.6-74.4-28-58-30-75.3-13-25.7-1.2-3.6 2-.7 5,6.1 7.7,4.4 9.6,6.7 23,9.6 28,8.5 21.4,5.1 28,5.5 28.3,4.3 28.7,3.2 28.6,2.6 58,2 29.7-.7 37-2.1 37.7-4.7 31-6.9 23.3-9.3 6.3-5 7-6.8 2.2,.8-2,5-45.3,93.7-27.4,67-25.6,48-32.7,67-27.7,37.3z"/>
<path fill="#bfff40" d="M1322.8,952.7l-27.3,9.6-2.7,0-30.6-16-26.7-21-2.2-2.1-31.3-56.4-20.3-33.6-7.4-13-29.6-74.4-28-58-30-75.3-7.4-14.3-1.1-3.4 2-.7 3,3.7 4.6,2.7 12.4,8.7 22.6,9.5 28.4,8.7 18.3,4.3 28,5.6 28,4.2 28.7,3.4 29,2.6 58,2 29.3-.7 33.3-2.1 38-4.6 31-6.9 23-9.4 3-2.5 9.7-9.5 2.3,1-43.1,89.7-27.4,67-25.6,48-32.7,67-27.7,37.3z"/>
<path fill="#afff50" d="M1506.6,623.2l-2.6,6.3-36.3,75-27.4,67-25.6,48-32.7,67-27.7,37.3-31.5,28.9-27.3,9.6-2.7,0-30.6-16-26.7-21-2.2-2.1-31.3-56.4-20.3-33.6-7.4-13-29.6-74.4-28-58-30-75.3-2.5-5 1.6-1 .7,.1 16.7,11.8 22.6,9.8 28,8.5 15.7,3.7 28,5.8 57,7.8 28.7,2.5 29,1.3 29.3,.6 29.3-.7 30-2 38-4.5 30.7-6.9 22.3-9.4 12.7-12.5z"/>
<path fill="#9fff60" d="M1502.4,632.2l-34.7,72.3-27.4,67-25.6,48-32.7,67-27.7,37.3-31.5,28.9-27.3,9.6-2.7,0-30.6-16-26.7-21-2.2-2.1-31.3-56.4-20.3-33.6-7.4-13-29.6-74.4-28-58-28-70 2.5-1 15.3,11 22.3,9.8 28,8.6 13,3.1 28,5.8 28.4,4.3 28.3,3.6 29,2.4 29,1.4 29.3,.5 29.4-.7 26.3-1.7 38-4.6 30.7-7 22.3-9.4 6-7.1 5.7-5.5z"/>
<path fill="#8fff70" d="M1498.2,641.2l-30.5,63.3-27.4,67-25.6,48-32.7,67-27.7,37.3-31.5,28.9-27.3,9.6-2.7,0-30.6-16-26.7-21-2.2-2.1-31.3-56.4-20.3-33.6-7.4-13-29.6-74.4-28-58-24.5-61.6 2.3-.4 15.3,11.5 22,9.7 28,8.7 38.4,8.3 28.3,4.5 28.3,3.6 29,2.3 29,1.5 29.4,.4 29.3-.7 23-1.5 37.7-4.7 30.3-6.9 22.7-9.7 10.6-12.6 .7,0-.3-.4 2,.7z"/>
<path fill="#80ff80" d="M1492.6,652.2l-1.3,3.6-23.6,48.7-27.4,67-25.6,48-32.7,67-27.7,37.3-31.5,28.9-27.3,9.6-2.7,0-30.6-16-26.7-21-2.2-2.1-31.3-56.4-20.3-33.6-7.4-13-29.6-74.4-28-58-19.7-49-.6-2.6 2.1-.9 14.7,11.4 22,9.9 27.6,8.5 35.4,7.7 37.6,5.9 19.4,2.4 29,2.3 28.6,1.5 29.4,.3 29.6-.7 19.7-1.3 37.7-4.6 30.6-7.1 21.7-9.5 9-10.6z"/>
<path fill="#70ff8f" d="M1487,664.8l-19.3,39.7-27.4,67-25.6,48-32.7,67-27.7,37.3-31.5,28.9-27.3,9.6-2.7,0-30.6-16-26.7-21-2.2-2.1-31.3-56.4-20.3-33.6-7.4-13-29.6-74.4-28-58-16.9-42.6 2.4-.6 14.3,11.5 21.7,9.9 32.3,9.7 29,6.3 39.3,6.1 16.7,2.1 28.7,2.2 29,1.6 29.3,.2 29.7-.8 16-1 38-4.6 30.3-7 6.7-3.4 15-6.5 6.6-7.9 2,.7z"/>
<path fill="#60ff9f" d="M1481.8,675.2l-14.1,29.3-27.4,67-25.6,48-32.7,67-27.7,37.3-31.5,28.9-27.3,9.6-2.7,0-30.6-16-26.7-21-2.2-2.1-31.3-56.4-20.3-33.6-7.4-13-29.6-74.4-28-58-13-32.6 .1-.7 2-.7 11,8.9 2.7,2.7 21.7,10 29.6,9.1 31.7,7 24.7,4 28.6,3.7 28.7,2.3 28.7,1.6 29.3,.1 29.7-.8 13-.9 38-4.5 30.3-7.1 10.3-5.3 10.7-4.5 5-5.8z"/>
<path fill="#50ffaf" d="M1476.2,686.8l-9.5,20-26.4,64.7-25.6,48-32.7,67-27.7,37.3-31.5,28.9-27.3,9.6-2.7,0-30.6-16-26.7-21-2.2-2.1-31.3-56.4-20.3-33.6-7.4-13-29.6-74.4-26.4-54.3-11.2-28 2.4-.4 8,6.4 5.3,5.4 21.4,10 28,8.7 33.3,7.3 22,3.7 28.3,3.7 29,2.3 29,1.5 29,.1 29.7-.9 30-2.9 17.7-2.2 30-7.1 21-10.1 2.6-3.1 .6-.1-.2-.3 2,.6z"/>
<path fill="#40ffbf" d="M1470.9,698.2l-4.2,8.6-26.4,64.7-25.6,48-30.4,62.3-3.6,6.7-26.4,35.3-31.5,28.9-27.3,9.6-2.7,0-30.6-16-26.7-21-2.2-2.1-31.3-56.4-20.3-33.6-7.4-13-29.6-74.4-26.4-54.3-7.2-18 2.4-.9 4.7,3.7 8,8 21,10.1 27.6,8.7 33.4,7.3 19.3,3.2 28.7,3.7 28.6,2.4 29,1.5 29.4,0 35.6-1.4 38.4-4.4 30-7.2 20.3-10.1 1-1 1.7,.2z"/>
<path fill="#30ffcf" d="M1466,709.2l-25.7,62.3-25.6,48-30.4,62.3-3.6,6.7-26.4,35.3-31.5,28.9-27.3,9.6-2.7,0-30.6-16-26.7-21-2.2-2.1-31.3-56.4-20.3-33.6-7.4-13-29.6-74.4-26.4-54.3-3.5-9 2.4-.7 12,11.8 21,10.3 27.6,8.7 33.4,7.3 16.6,2.7 28.4,3.7 29,2.5 29,1.4 29.3,0 32.3-1.2 38.7-4.5 29.7-7.1 19.6-10.2 2,.8z"/>
<path fill="#20ffdf" d="M1462.4,717.2l-22.1,54.3-25.6,48-30.4,62.3-3.6,6.7-26.4,35.3-31.5,28.9-27.3,9.6-2.7,0-30.6-16-26.7-21-2.2-2.1-31.3-56.4-20.3-33.6-7.4-13-29.6-74.4-22.7-46.6-2.7-6.4 2.2-.8 11,11.1 12.3,5.8 8.4,4.5 27.3,8.6 33.7,7.4 14,2.3 28.3,3.7 28.7,2.4 29.3,1.5 29.3-.1 28.7-1.1 39-4.4 29.3-7.1 12.4-6.2 7-4.2z"/>
<path fill="#10ffef" d="M1458.9,726.2l-18.6,45.3-25.6,48-30.4,62.3-3.6,6.7-26.4,35.3-31.5,28.9-27.3,9.6-2.7,0-30.6-16-26.7-21-2.2-2.1-31.3-56.4-20.3-33.6-7.4-13-29.6-74.4-18.7-38.3-.8-2.3 2.3-1 8.3,8.4 9.7,4.5 10.3,5.6 27.7,8.9 33.7,7.2 11,1.9 28.6,3.7 28.7,2.5 29,1.5 29.3-.1 25.7-1 39-4.4 29.3-7.2 6.4-3.2 12.3-7.4 1.7,.3z"/>
<path fill="#00ffff" d="M1455,735.8l-14.7,35.7-25.6,48-30.4,62.3-3.6,6.7-26.4,35.3-31.5,28.9-27.3,9.6-2.7,0-30.6-16-26.7-21-2.2-2.1-31.3-56.4-20.3-33.6-7.4-13-29.6-74.4-11-22.3-2.9-7 2-.7 6,6.1 20,10.3 27.4,8.8 33.6,7.3 8.7,1.4 28.7,3.8 28.6,2.5 29,1.4 29.4-.1 22.3-.9 37.3-4.1 31-7.5 18-10.7 2,.7z"/>
<path fill="#00efff" d="M1451.3,744.8l-11,26.7-25.6,48-30.4,62.3-3.6,6.7-26.4,35.3-31.5,28.9-27.3,9.6-2.7,0-30.6-16-26.7-21-2.2-2.1-31.3-56.4-20.3-33.6-7.4-13-29.6-74.4-7.4-14.6-.6-2.4 2.1-.8 3.4,3.4 19.6,10.3 27.4,8.9 39.6,8.2 28.7,3.7 28.7,2.6 28.6,1.3 29.7-.1 18.7-.7 39-4.3 29.3-7.3 17.7-11 2,.7z"/>
<path fill="#00dfff" d="M1447.9,752.8l-7.6,18.7-25.6,48-30.4,62.3-3.6,6.7-26.4,35.3-31.5,28.9-27.3,9.6-2.7,0-30.6-16-26.7-21-2.2-2.1-31.3-56.4-20.3-33.6-7.4-13-29.6-74.4-2.4-5 2.2-.9 1,.9 19.3,10.4 27,8.8 34,7.3 42.4,5.4 18,1.5 23.3,1.1 35,0 15.7-.6 39-4.2 29-7.4 8-5.5 9.3-5.6 1.7,.1z"/>
<path fill="#00cfff" d="M1443.9,762.5l-3.6,9-25.6,48-32.7,67-27.7,37.3-31.5,28.9-27.3,9.6-2.7,0-30.6-16-26.7-21-2.2-2.1-31.3-56.4-25.7-42.6-2-4-27.5-69 2.4-.9 18.6,10.4 27,8.8 34,7.3 42.7,5.2 15,1.3 19,.9 39.3,.1 12-.4 39.4-4.2 29-7.5 16.3-11.1 2.3,.8z"/>
<path fill="#00bfff" d="M1440.3,771.5l-25.6,48-32.7,67-27.7,37.3-31.5,28.9-27.3,9.6-2.7,0-30.6-16-26.7-21-2.2-2.1-31.3-56.4-25.7-42.6-2-4-23.6-58.7-.1-1 2.2-.9 9.4,5.9 8.6,4.7 26.7,8.8 34.7,7.2 43,5.2 26.3,1.7 30.7,.3 21.6-.4 39.4-4.2 28.6-7.5 16-11.2 2.4,.8z"/>
<path fill="#00afff" d="M1435.4,780.2l-1.4,3.3-19.3,36-32.7,67-27.7,37.3-31.5,28.9-27.3,9.6-2.7,0-30.6-16-26.7-21-2.2-2.1-31.3-56.4-25.7-42.6-2-4-19.9-50 .1-.7 2-.7 17.3,10.9 27.7,9.1 34,6.8 43,5.2 19,1.2 18.7,.4 34.3-.2 39.7-4.2 28.3-7.5 13-9.1 1.7-2.1 .6,0z"/>
<path fill="#009fff" d="M1431.1,788.5l-16.4,31-32.7,67-27.7,37.3-31.5,28.9-27.3,9.6-2.7,0-30.6-16-26.7-21-2.2-2.1-31.3-56.4-25.7-42.6-2-4-16.5-41.7 2.4-.4 17,11.1 26.3,8.8 35,7 43.3,5.1 12,.8 22.4,.5 31.3-.1 39.3-4.1 28.7-7.7 9.3-6.6 3.4-4.3 .5-.1 .1-.8z"/>
<path fill="#008fff" d="M1426.2,797.2l-1.5,4-10,18.3-32.7,67-27.7,37.3-31.5,28.9-27.3,9.6-2.7,0-30.6-16-26.7-21-2.2-2.1-31.3-56.4-25.7-42.6-2-4-12.4-31.7 2.3-1 11,7.1 5.3,3.9 26.3,8.9 35,7.1 17,2.2 31,3.1 26.7,.6 27.7,0 39.6-4 28.4-7.7 5.6-4 6-7.8 .6-.1-.2-.3z"/>
<path fill="#0080ff" d="M1421.9,805.5l-.3,1.3-6.9,12.7-32.7,67-27.7,37.3-31.5,28.9-27.3,9.6-2.7,0-30.6-16-26.7-21-2.2-2.1-31.3-56.4-25.7-42.6-2-4-8.9-22.7 2.4-.7 8,5.1 8,6 26.4,9 34.6,6.9 44.7,5 51,.6 40.3-3.9 28.4-7.9 2-1.4 8.3-11 .6,0-.3-.4z"/>
<path fill="#0070ff" d="M1417,814.8l-35,71.7-27.7,37.3-31.5,28.9-27.3,9.6-2.7,0-30.6-16-26.7-21-2.2-2.1-31.3-56.4-25.7-42.6-2-4-5.2-13.7 2.4-.5 5,3.2 10.7,8.1 26,9 35,7 31.6,3.6 14.4,1 42.6,.5 41-3.7 27.4-7.8 9.6-12.9z"/>
<path fill="#0060ff" d="M1412.7,823.2l-30.7,63.3-27.7,37.3-31.5,28.9-27.3,9.6-2.7,0-30.6-16-26.7-21-2.2-2.1-31.3-56.4-25.7-42.6-3.2-7.7 2.4-1.1 15,11.3 26,9 35,7 23,2.6 24.3,1.6 34.7,.5 41-3.6 27-8.1 9-13.3z"/>
<path fill="#0050ff" d="M1406.8,835.2l-.5,1.6-24.3,49.7-27.7,37.3-31.5,28.9-27.3,9.6-2.7,0-30.6-16-26.7-21-2.2-2.1-31.3-56.4-20.3-33.6-3.4-6.4 2.2-.9 13.3,10.1 25.7,9.1 39.7,7.6 10,1.1 34,2.2 26.6,.4 41-3.6 26.7-8.2 7-9.8 0-.4 .7-.2z"/>
<path fill="#0040ff" d="M1401.4,846.2l-2.4,5.6-17,34.7-27.7,37.3-31.5,28.9-27.3,9.6-2.7,0-30.6-16-26.7-21-2.2-2.1-28.6-51.7-15.7-26-3.3-6.3 2.1-.9 9.4,7.1 25.6,9.1 37,7.3 48.4,3.3 18,.3 41-3.6 26.3-8.2 5.3-7.7 .5-.1-.1-.4 .6-.1z"/>
<path fill="#0030ff" d="M1396,857.2l-14,29.3-27.7,37.3-31.5,28.9-27.3,9.6-2.7,0-30.6-16-26.7-21-2.2-2.1-28.6-51.7-9.4-15.3-2.2-4.7 2.1-.8 5.3,4.1 25.3,9.1 35.7,7 51.3,3.3 9.7,.1 41.3-3.6 25.7-8.2 4-5.6 .5-.1-.2-.4z"/>
<path fill="#0020ff" d="M1390.6,868.2l-8.6,18.3-28.8,38.5-30.4,27.7-27.3,9.6-2.7,0-30.6-16-26.7-21-2.2-2.1-31.9-57-.9-2.4 2-.7 1.3,1.1 25.4,9.2 15.6,3.1 21,3.5 52,3.3 42.4-3.6 25.6-8.4 2.4-3.3 .6-.2-.3-.3z"/>
<path fill="#0010ff" d="M1384.5,880.8l-.8,2.4-3,5.3-26.4,35.3-28.8,26.5-4,3-25,8.4-1,.6-2.7,0-30.6-16-26.7-21-2.2-2.1-24.6-44-2.3-5 2.1-.8 21.2,8.4 4.1,1.3 36.7,6 43.3,2.8 13-.6 29.7-2.6 26.3-8.9z"/>
<path fill="#0000ff" d="M1378.8,890.5l-24.5,33.3-31.5,28.9-27.3,9.6-2.7,0-30.6-16-26.7-21-2.2-2.1-20-35.7-1.9-4.3 2.1-.8 23.7,9.6 37.6,6.2 34,2.2 28.4-1.3 15.6-1.4 18.4-6.2 6-2.6z"/>
<path fill="#0000ef" d="M1372.7,898.5l-1,2-17.4,23.3-31.5,28.9-27.3,9.6-2.7,0-30.6-16-26.7-21-2.2-2.1-15.3-27.4-1.6-3.6 2.1-.8 23,9.6 37.7,6.3 24.3,1.6 45.7-2.2 21.6-9.5z"/>
<path fill="#0000df" d="M1366.9,906.2l-.9,2-11.7,15.6-31.5,28.9-27.3,9.6-2.7,0-30.6-16-26.7-21-2.2-2.1-10.6-19-1-2.7 2.1-1 10.4,4.1 12,5.5 37.6,6.4 14.7,.9 45.3-2.2 21-9.9z"/>
<path fill="#0000cf" d="M1360.8,914.8l-7.6,10.2-30.4,27.7-27.3,9.6-2.7,0-31.6-16.6-25.7-20.4-2.2-2.1-6.7-12.7 2.2-1 22,9.8 37.4,6.3 5.3,.4 45-2.3 12.3-6.6 8-3.6 2,.7z"/>
<path fill="#0000bf" d="M1354.4,923.2l-1.2,1.8-30.4,27.7-27.3,9.6-2.7,0-31.6-16.6-25.7-20.4-2.2-2.1-1.7-3.7 2.2-1 21.7,9.9 29,4.9 11.3,.7 37.4-1.9 19.3-10.3z"/>
<path fill="#0000af" d="M1340.2,936.5l-17.4,16.2-27.3,9.6-2.7,0-30.6-16-16-12.8 1.6-1.7 12,5.6 12.7,2.2 19.3,.6 15.7,1.4 20.3-1.1 10.7-5.7z"/>
<path fill="#00009f" d="M1266.1,948.2l1.4-2.2 25,.9 26.7,2.2 3.3-.2 2-.9 1.5,1.5-3.2,3.1-1.3,.7-25,8.4-1,.6-2.7,0z"/>
<path fill="#00008f" d="M1309.5,957.2l-14,5.1-2.7,0-13.3-7.1 1.3-2.1 12.4,.4 15.6,1.3z"/>
<path fill="#fff" fill-rule="evenodd" d="M0,0H2341V1381H0ZM2142.7,314.2l-118.5,26.5-3,1-4.4,.6-3,1-14.6,3-3,1-4.4,.7-65,15-48.6,12-1.4,0-24.3,6.3-1.3,0-111.4,28.4-1.3,0-23.7,6-33.6,7.6-37.7,7.7-1.7,.7-16.3,3-17.2,16.1-26.6,33-29,42.7-32.7,63.7-54.7,113.6-27.3,67-25.3,47.4-32.7,67-27.7,37.3-30.8,28.2-26.7,9.3-1.3,0-30-15.7-28.2-22.5-31.3-56.3-25.7-42.7-31.3-77.6-28-58-30-75.4-39.2-78.5-831.1-263.1 121.8-27.2 3-1 13.3-2.7 3-1 13.4-2.6 3-1 13.3-2.7 3-1 13.3-2.7 3-1 13.4-2.6 3-1 13.3-2.7 3-1 13.3-2.7 3-1 16.4-3.3 3-1 13.3-2.7 3-1 13.3-2.6 3-1 13.4-2.7 3-1 13.3-2.7 3-1 16.3-3.3 3-1 13.4-2.7 3-1 13.3-2.6 3-1 16.3-3.4 3-1 13.4-2.6 3-1 13.3-2.7 3-1 16.3-3.3 3-1 13.4-2.7 3-1 13.3-2.7 3-1 13.3-2.6 3-1 13.4-2.7 3-1 13.3-2.7 3-1 13.3-2.6 3-1 13.4-2.7 32.6-7.7 13.4-2.6 3-1 13.3-2.7 32.7-7.7 13.3-2.6 3-1 13.3-2.7 3-1 13.4-2.7 3-1 13.3-2.6 3-1 13.3-2.7 32.7-7.7 13.3-2.6 3-1 13.4-2.7 3-1 13.3-2.7 3-1 13.3-2.6 3-1 13.4-2.7 3-1 13.3-2.7 3-1 13.3-2.6 3-1 32.7-7 3-1 13.3-2.7 3-1 13.4-2.7 3-1 13.3-2.6 3-1 13.3-2.7 3-1 13.4-2.7 3-1 13.3-2.6 3-1 13.3-2.7 3-1 16.4-3.3 115,36.6 7.3,2 6.3,2.4 13.7,4 6.3,2.3 13.7,4 6.3,2.3 13.7,4 6.3,2.4 13.7,4 6.3,2.3 7.4,2 6.3,2.3 13.7,4 6.3,2.4 13.7,4 6.3,2.3 13.7,4 6.3,2.3 7.3,2 6.4,2.4 13.6,4 6.4,2.3 13.6,4 6.4,2.3 7.3,2 6.3,2.4 13.7,4 6.3,2.3 7.4,2 6.3,2.3 13.7,4 6.3,2.4 7.3,2 6.4,2.3 13.6,4 6.4,2.3 7.3,2 6.3,2.4 7.4,2 6.3,2.3 13.7,4 6.3,2.3 7.3,2 6.4,2.4 7.3,2 6.3,2.3 13.7,4 6.3,2.3 7.4,2 6.3,2.4 13.7,4 6.3,2.3 13.7,4 6.3,2.3 7.3,2 6.4,2.4 13.6,4 6.4,2.3 1,0 131.6,42 40,12.3 6.4,2.4 13.6,4 6.4,2.3 13.6,4 6.4,2.3 13.6,4 6.4,2.4 13.6,4z"/>
</g>
<clipPath id="outside"><path clip-rule="evenodd" d="M0,0H2341V1381H0ZM2142.7,314.2l-118.5,26.5-3,1-4.4,.6-3,1-14.6,3-3,1-4.4,.7-65,15-48.6,12-1.4,0-24.3,6.3-1.3,0-111.4,28.4-1.3,0-23.7,6-33.6,7.6-37.7,7.7-1.7,.7-16.3,3-17.2,16.1-26.6,33-29,42.7-32.7,63.7-54.7,113.6-27.3,67-25.3,47.4-32.7,67-27.7,37.3-30.8,28.2-26.7,9.3-1.3,0-30-15.7-28.2-22.5-31.3-56.3-25.7-42.7-31.3-77.6-28-58-30-75.4-39.2-78.5-831.1-263.1 121.8-27.2 3-1 13.3-2.7 3-1 13.4-2.6 3-1 13.3-2.7 3-1 13.3-2.7 3-1 13.4-2.6 3-1 13.3-2.7 3-1 13.3-2.7 3-1 16.4-3.3 3-1 13.3-2.7 3-1 13.3-2.6 3-1 13.4-2.7 3-1 13.3-2.7 3-1 16.3-3.3 3-1 13.4-2.7 3-1 13.3-2.6 3-1 16.3-3.4 3-1 13.4-2.6 3-1 13.3-2.7 3-1 16.3-3.3 3-1 13.4-2.7 3-1 13.3-2.7 3-1 13.3-2.6 3-1 13.4-2.7 3-1 13.3-2.7 3-1 13.3-2.6 3-1 13.4-2.7 32.6-7.7 13.4-2.6 3-1 13.3-2.7 32.7-7.7 13.3-2.6 3-1 13.3-2.7 3-1 13.4-2.7 3-1 13.3-2.6 3-1 13.3-2.7 32.7-7.7 13.3-2.6 3-1 13.4-2.7 3-1 13.3-2.7 3-1 13.3-2.6 3-1 13.4-2.7 3-1 13.3-2.7 3-1 13.3-2.6 3-1 32.7-7 3-1 13.3-2.7 3-1 13.4-2.7 3-1 13.3-2.6 3-1 13.3-2.7 3-1 13.4-2.7 3-1 13.3-2.6 3-1 13.3-2.7 3-1 16.4-3.3 115,36.6 7.3,2 6.3,2.4 13.7,4 6.3,2.3 13.7,4 6.3,2.3 13.7,4 6.3,2.4 13.7,4 6.3,2.3 7.4,2 6.3,2.3 13.7,4 6.3,2.4 13.7,4 6.3,2.3 13.7,4 6.3,2.3 7.3,2 6.4,2.4 13.6,4 6.4,2.3 13.6,4 6.4,2.3 7.3,2 6.3,2.4 13.7,4 6.3,2.3 7.4,2 6.3,2.3 13.7,4 6.3,2.4 7.3,2 6.4,2.3 13.6,4 6.4,2.3 7.3,2 6.3,2.4 7.4,2 6.3,2.3 13.7,4 6.3,2.3 7.3,2 6.4,2.4 7.3,2 6.3,2.3 13.7,4 6.3,2.3 7.4,2 6.3,2.4 13.7,4 6.3,2.3 13.7,4 6.3,2.3 7.3,2 6.4,2.4 13.6,4 6.4,2.3 1,0 131.6,42 40,12.3 6.4,2.4 13.6,4 6.4,2.3 13.6,4 6.4,2.3 13.6,4 6.4,2.4 13.6,4z"/></clipPath>
<g clip-path="url(#outside)">
<g stroke="#e9e9e9" stroke-width="2" fill="none">
<line x1="1405.3" y1="1239.7" x2="526" y2="961.2"/>
<line x1="526" y1="961.2" x2="526" y2="201.2" stroke="#e0e0e0"/>
<line x1="1712.7" y1="1170.7" x2="833.4" y2="892.2"/>
<line x1="833.4" y1="892.2" x2="833.4" y2="132.2" stroke="#e0e0e0"/>
<line x1="2020" y1="1101.7" x2="1140.7" y2="823.2"/>
<line x1="1140.7" y1="823.2" x2="1140.7" y2="63.2" stroke="#e0e0e0"/>
<line x1="2143" y1="1074.1" x2="2143" y2="314.1" stroke="#e0e0e0"/>
<line x1="823.1" y1="1221.7" x2="1868.2" y2="987.1"/>
<line x1="1868.2" y1="987.1" x2="1868.2" y2="227.1" stroke="#e0e0e0"/>
<line x1="548.3" y1="1134.6" x2="1593.4" y2="900"/>
<line x1="1593.4" y1="900" x2="1593.4" y2="140" stroke="#e0e0e0"/>
<line x1="273.6" y1="1047.6" x2="1318.7" y2="813"/>
<line x1="1318.7" y1="813" x2="1318.7" y2="53" stroke="#e0e0e0"/>
<line x1="218.6" y1="1030.2" x2="1263.7" y2="795.6"/>
<line x1="2143" y1="1074.1" x2="1263.7" y2="795.6"/>
<line x1="218.6" y1="878.2" x2="1263.7" y2="643.6"/>
<line x1="2143" y1="922.1" x2="1263.7" y2="643.6"/>
<line x1="218.6" y1="726.2" x2="1263.7" y2="491.6"/>
<line x1="2143" y1="770.1" x2="1263.7" y2="491.6"/>
<line x1="218.6" y1="574.2" x2="1263.7" y2="339.6"/>
<line x1="2143" y1="618.1" x2="1263.7" y2="339.6"/>
<line x1="218.6" y1="422.2" x2="1263.7" y2="187.6"/>
<line x1="2143" y1="466.1" x2="1263.7" y2="187.6"/>
</g>
<g fill="none" stroke-width="1.3" stroke-linejoin="round" opacity="0.72">
<path stroke="#ef0000" d="M1149.7,984.8 1173.7,983.4 1223.6,983 1225.2,983 1282.2,984.8 1283.4,984.8 1333.6,988.1 1352.7,990.1 1379.1,992.8 1419.9,998.5 1448.5,1003.8 1456.5,1005.1 1491.5,1012.1 1522.8,1020 1550.8,1028.6 1575.7,1037.9 1596.7,1048 1605.1,1053.5 1614.8,1058.8 1629.2,1070.5 1634.6,1079.4 1637,1083.6 1637.6,1097 1637.1,1098.4 1629.7,1111.2 1622,1116.7 1614.1,1122.8 1592.8,1132.7 1566.1,1140.9 1535.2,1147.8 1500.2,1153.3 1460.2,1157.3 1435.8,1158.5 1415.5,1159.8 1364.6,1160.3 1361.8,1160.2 1307.2,1158.7 1303.1,1158.5 1252.1,1155.1 1238.9,1153.7 1206.2,1150.5 1165.9,1144.7 1146.6,1141.1 1128.6,1138.2 1093.8,1131.2 1062.7,1123.3 1034.6,1114.7 1009.7,1105.4 988.4,1095.3 975.7,1087 971,1084.4 956.3,1072.8 950.1,1062.2 948.7,1059.6 948.4,1045.1 948.5,1044.8 956.9,1031.1 963.5,1026.6 972.9,1019.6 994.7,1009.8 1021.7,1001.8 1052.9,995 1088.3,989.6 1128.7,985.7 1149.7,984.8Z"/>
<path stroke="#ff6000" d="M1131,1003.8 1132.6,1003.6 1173.5,999.9 1219.8,998.8 1222.2,998.7 1278.4,999.9 1280.6,1000 1331.4,1003.5 1348,1005.3 1375.9,1008.3 1415.1,1014.4 1449.5,1021.6 1462.4,1024.9 1481,1029.4 1508.7,1038 1525.4,1044.8 1532.4,1047.6 1552.9,1057.9 1567.9,1069.4 1572.9,1076.5 1576.1,1082.4 1576,1094.1 1574,1097.7 1566.1,1107.6 1547,1118.2 1543.6,1119.4 1522.6,1127.2 1492.3,1134.2 1456,1139.3 1454.4,1139.5 1415.5,1143.1 1367.4,1144.5 1365.6,1144.5 1312.1,1143.6 1304.7,1143.3 1254.2,1139.8 1243.8,1138.7 1209.5,1134.9 1170.6,1128.8 1140.2,1122.5 1136.1,1121.7 1104.2,1114 1076.4,1105.3 1053,1095.7 1049.1,1093.6 1032.8,1085.4 1017.5,1073.9 1011.6,1065.1 1009.5,1060.9 1010,1048 1011.5,1045.5 1020.6,1034.7 1040.3,1024.3 1041,1024 1065.1,1015.5 1095.9,1008.6 1131,1003.8Z"/>
<path stroke="#ffdf00" d="M1143.8,1015.9 1162.8,1013.2 1205.8,1010.2 1236.8,1009.8 1257.5,1009.9 1295.5,1011.5 1321.5,1013.6 1343.7,1015.6 1384.9,1021.2 1418.9,1027.7 1420.6,1028.1 1452.7,1035.7 1480.1,1044.5 1502.1,1054.1 1502.5,1054.3 1520.7,1065.1 1531.8,1077.5 1532.9,1080.5 1532.2,1092.2 1530.3,1096.3 1515.2,1108.2 1498.8,1114.6 1491.9,1117.4 1462.1,1124.6 1441.7,1127.4 1425.8,1129.8 1383.4,1133 1348.7,1133.4 1332.4,1133.4 1290,1131.7 1269.7,1130.2 1241.8,1127.7 1200.7,1122 1177.2,1117.6 1164.6,1115.3 1132.6,1107.6 1105.3,1098.8 1082.7,1089 1078,1086.1 1064.8,1078.2 1053.7,1065.8 1052.2,1061.3 1053.4,1051 1056,1045.9 1071.9,1034.3 1087.1,1028.6 1095.7,1025.2 1126.1,1018.2 1143.8,1015.9Z"/>
<path stroke="#afff50" d="M1181.8,1022.2 1188.5,1021.3 1233.7,1019 1261.2,1019.2 1290.2,1020.2 1315.3,1022 1359.1,1027 1369.5,1028.7 1396.8,1033.4 1429,1041 1456,1049.9 1477.4,1059.9 1484.6,1065.2 1492.3,1071.5 1497.9,1085.1 1497.8,1086 1487.4,1099.4 1476,1104.9 1466.4,1109.3 1437.1,1116.7 1402.6,1121.3 1400.2,1121.7 1355.8,1124.2 1324.3,1124 1300.4,1123.3 1270.2,1121.3 1226.4,1116.3 1224.9,1116 1188.6,1109.9 1156.5,1102.2 1129.5,1093.4 1108,1083.4 1097.9,1075.8 1093.2,1071.8 1087.7,1058.2 1088,1056 1099.4,1043 1109.5,1038.4 1121.2,1033.3 1151,1026.1 1181.8,1022.2Z"/>
<path stroke="#30ffcf" d="M1220,1028.5 1260.5,1027.5 1286.7,1028.4 1325.2,1031.3 1335.2,1032.4 1374.3,1038.5 1406.8,1046 1433.3,1055 1453.1,1065.4 1462.4,1074.8 1464,1077.8 1460.8,1090.9 1455.3,1094.6 1442.6,1101.8 1414.1,1109.4 1376.8,1114.2 1365.8,1114.7 1329.3,1115.8 1298.9,1114.9 1266.3,1112.5 1250.3,1110.9 1211.2,1104.8 1178.7,1097.2 1152.2,1088.3 1132.4,1077.9 1121.8,1066.7 1121.3,1065.5 1125.7,1051.3 1129.9,1048.7 1144.9,1040.8 1174,1033.4 1212.1,1028.8 1220,1028.5Z"/>
<path stroke="#00bfff" d="M1252.3,1036.1 1289.5,1036.7 1309.7,1038.1 1351.7,1043.5 1385.3,1050.9 1410.9,1060 1427.5,1071.1 1431.9,1081.8 1429.4,1085.6 1418.4,1094.1 1391.2,1102.1 1352.9,1106.7 1333.4,1107.1 1300.9,1106.8 1275.9,1105.2 1233.7,1099.8 1209.7,1094.6 1200.2,1092.4 1175.2,1083.7 1174.3,1083.3 1157.9,1072.2 1153.8,1060.2 1155.7,1057.8 1168.8,1048.3 1197,1040.6 1236.1,1036.4 1252.3,1036.1Z"/>
<path stroke="#0040ff" d="M1278.1,1045.2 1327.6,1048.9 1329.2,1049.2 1361.7,1056.2 1386.3,1065.5 1390.3,1068.6 1395.5,1078.3 1391.3,1085.6 1366.4,1094.3 1326.3,1098.2 1307.7,1098 1263.3,1094.9 1258.1,1094.3 1224,1087.1 1199.4,1077.7 1193.1,1072.7 1189.9,1065 1195.6,1056.8 1221.8,1048.5 1263.1,1044.9 1278.1,1045.2Z"/>
<path stroke="#0000cf" d="M1290.5,1057.3 1305.8,1058.5 1330.9,1063.1 1352.3,1073.1 1352.3,1073.2 1333.9,1084 1293.6,1086.3 1287.5,1086 1255,1080.1 1233.9,1070 1233.6,1068.9 1254.3,1058.8 1290.5,1057.3Z"/>
</g>
</g>
<g stroke="#262626" stroke-width="2" fill="none" stroke-linecap="butt">
<line x1="218.6" y1="1030.2" x2="218.6" y2="270.2"/>
<line x1="1097.9" y1="1308.7" x2="218.6" y2="1030.2"/>
<line x1="1097.9" y1="1308.7" x2="2143" y2="1074.1"/>
<line x1="1097.9" y1="1308.7" x2="1122.9" y2="1317.7"/>
<line x1="1405.3" y1="1239.7" x2="1430.3" y2="1248.7"/>
<line x1="1712.7" y1="1170.7" x2="1737.7" y2="1179.7"/>
<line x1="2020" y1="1101.7" x2="2045" y2="1110.7"/>
<line x1="1097.9" y1="1308.7" x2="1071.5" y2="1315.1"/>
<line x1="823.1" y1="1221.7" x2="796.7" y2="1228.1"/>
<line x1="548.3" y1="1134.6" x2="521.9" y2="1141"/>
<line x1="273.6" y1="1047.6" x2="247.2" y2="1054"/>
<line x1="218.6" y1="1030.2" x2="192" y2="1021.3"/>
<line x1="218.6" y1="878.2" x2="192" y2="869.3"/>
<line x1="218.6" y1="726.2" x2="192" y2="717.3"/>
<line x1="218.6" y1="574.2" x2="192" y2="565.3"/>
<line x1="218.6" y1="422.2" x2="192" y2="413.3"/>
</g>
<g font-family="'Liberation Sans', Arial, Helvetica, sans-serif" font-size="41.67" fill="#262626">
<text x="1134.4" y="1363.7">0</text>
<text x="1441.8" y="1294.7">500</text>
<text x="1749.2" y="1225.7">1000</text>
<text x="2056.5" y="1156.7">1500</text>
<text x="1059.5" y="1359.6" text-anchor="end">0</text>
<text x="784.7" y="1272.6" text-anchor="end">500</text>
<text x="509.9" y="1185.5" text-anchor="end">1000</text>
<text x="235.2" y="1098.5" text-anchor="end">1500</text>
<text x="179.5" y="1036.2" text-anchor="end">-1</text>
<text x="179.5" y="884.2" text-anchor="end">-0.8</text>
<text x="179.5" y="732.2" text-anchor="end">-0.6</text>
<text x="179.5" y="580.2" text-anchor="end">-0.4</text>
<text x="179.5" y="428.2" text-anchor="end">-0.2</text>
</g>
<text transform="translate(79.7,659.6) rotate(-90)" text-anchor="middle" font-family="'Liberation Sans', Arial, Helvetica, sans-serif" font-size="55.6" fill="#595959">Subsidence (m)</text>
<g shape-rendering="crispEdges">
<rect x="2195.8" y="1055.61" width="27.3" height="10.39" fill="#00008f"/>
<rect x="2195.8" y="1045.81" width="27.3" height="10.39" fill="#00009f"/>
<rect x="2195.8" y="1036.02" width="27.3" height="10.39" fill="#0000af"/>
<rect x="2195.8" y="1026.23" width="27.3" height="10.39" fill="#0000bf"/>
<rect x="2195.8" y="1016.43" width="27.3" height="10.39" fill="#0000cf"/>
<rect x="2195.8" y="1006.64" width="27.3" height="10.39" fill="#0000df"/>
<rect x="2195.8" y="996.84" width="27.3" height="10.39" fill="#0000ef"/>
<rect x="2195.8" y="987.05" width="27.3" height="10.39" fill="#0000ff"/>
<rect x="2195.8" y="977.26" width="27.3" height="10.39" fill="#0010ff"/>
<rect x="2195.8" y="967.46" width="27.3" height="10.39" fill="#0020ff"/>
<rect x="2195.8" y="957.67" width="27.3" height="10.39" fill="#0030ff"/>
<rect x="2195.8" y="947.88" width="27.3" height="10.39" fill="#0040ff"/>
<rect x="2195.8" y="938.08" width="27.3" height="10.39" fill="#0050ff"/>
<rect x="2195.8" y="928.29" width="27.3" height="10.39" fill="#0060ff"/>
<rect x="2195.8" y="918.49" width="27.3" height="10.39" fill="#0070ff"/>
<rect x="2195.8" y="908.70" width="27.3" height="10.39" fill="#0080ff"/>
<rect x="2195.8" y="898.91" width="27.3" height="10.39" fill="#008fff"/>
<rect x="2195.8" y="889.11" width="27.3" height="10.39" fill="#009fff"/>
<rect x="2195.8" y="879.32" width="27.3" height="10.39" fill="#00afff"/>
<rect x="2195.8" y="869.53" width="27.3" height="10.39" fill="#00bfff"/>
<rect x="2195.8" y="859.73" width="27.3" height="10.39" fill="#00cfff"/>
<rect x="2195.8" y="849.94" width="27.3" height="10.39" fill="#00dfff"/>
<rect x="2195.8" y="840.14" width="27.3" height="10.39" fill="#00efff"/>
<rect x="2195.8" y="830.35" width="27.3" height="10.39" fill="#00ffff"/>
<rect x="2195.8" y="820.56" width="27.3" height="10.39" fill="#10ffef"/>
<rect x="2195.8" y="810.76" width="27.3" height="10.39" fill="#20ffdf"/>
<rect x="2195.8" y="800.97" width="27.3" height="10.39" fill="#30ffcf"/>
<rect x="2195.8" y="791.18" width="27.3" height="10.39" fill="#40ffbf"/>
<rect x="2195.8" y="781.38" width="27.3" height="10.39" fill="#50ffaf"/>
<rect x="2195.8" y="771.59" width="27.3" height="10.39" fill="#60ff9f"/>
<rect x="2195.8" y="761.79" width="27.3" height="10.39" fill="#70ff8f"/>
<rect x="2195.8" y="752.00" width="27.3" height="10.39" fill="#80ff80"/>
<rect x="2195.8" y="742.21" width="27.3" height="10.39" fill="#8fff70"/>
<rect x="2195.8" y="732.41" width="27.3" height="10.39" fill="#9fff60"/>
<rect x="2195.8" y="722.62" width="27.3" height="10.39" fill="#afff50"/>
<rect x="2195.8" y="712.83" width="27.3" height="10.39" fill="#bfff40"/>
<rect x="2195.8" y="703.03" width="27.3" height="10.39" fill="#cfff30"/>
<rect x="2195.8" y="693.24" width="27.3" height="10.39" fill="#dfff20"/>
<rect x="2195.8" y="683.44" width="27.3" height="10.39" fill="#efff10"/>
<rect x="2195.8" y="673.65" width="27.3" height="10.39" fill="#ffff00"/>
<rect x="2195.8" y="663.86" width="27.3" height="10.39" fill="#ffef00"/>
<rect x="2195.8" y="654.06" width="27.3" height="10.39" fill="#ffdf00"/>
<rect x="2195.8" y="644.27" width="27.3" height="10.39" fill="#ffcf00"/>
<rect x="2195.8" y="634.48" width="27.3" height="10.39" fill="#ffbf00"/>
<rect x="2195.8" y="624.68" width="27.3" height="10.39" fill="#ffaf00"/>
<rect x="2195.8" y="614.89" width="27.3" height="10.39" fill="#ff9f00"/>
<rect x="2195.8" y="605.09" width="27.3" height="10.39" fill="#ff8f00"/>
<rect x="2195.8" y="595.30" width="27.3" height="10.39" fill="#ff8000"/>
<rect x="2195.8" y="585.51" width="27.3" height="10.39" fill="#ff7000"/>
<rect x="2195.8" y="575.71" width="27.3" height="10.39" fill="#ff6000"/>
<rect x="2195.8" y="565.92" width="27.3" height="10.39" fill="#ff5000"/>
<rect x="2195.8" y="556.12" width="27.3" height="10.39" fill="#ff4000"/>
<rect x="2195.8" y="546.33" width="27.3" height="10.39" fill="#ff3000"/>
<rect x="2195.8" y="536.54" width="27.3" height="10.39" fill="#ff2000"/>
<rect x="2195.8" y="526.74" width="27.3" height="10.39" fill="#ff1000"/>
<rect x="2195.8" y="516.95" width="27.3" height="10.39" fill="#ff0000"/>
<rect x="2195.8" y="507.16" width="27.3" height="10.39" fill="#ef0000"/>
<rect x="2195.8" y="497.36" width="27.3" height="10.39" fill="#df0000"/>
<rect x="2195.8" y="487.57" width="27.3" height="10.39" fill="#cf0000"/>
<rect x="2195.8" y="477.77" width="27.3" height="10.39" fill="#bf0000"/>
<rect x="2195.8" y="467.98" width="27.3" height="10.39" fill="#af0000"/>
<rect x="2195.8" y="458.19" width="27.3" height="10.39" fill="#9f0000"/>
<rect x="2195.8" y="448.39" width="27.3" height="10.39" fill="#8f0000"/>
<rect x="2195.8" y="438.60" width="27.3" height="10.39" fill="#800000"/>
</g>
<rect x="2195.8" y="438.6" width="27.3" height="626.8" fill="none" stroke="#262626" stroke-width="1.7"/>
<g stroke="#262626" stroke-width="1.8">
<line x1="2216.6" y1="586.8" x2="2223.1" y2="586.8"/>
<line x1="2216.6" y1="733.8" x2="2223.1" y2="733.8"/>
<line x1="2216.6" y1="880.8" x2="2223.1" y2="880.8"/>
<line x1="2216.6" y1="1027.8" x2="2223.1" y2="1027.8"/>
</g>
<g font-family="'Liberation Sans', Arial, Helvetica, sans-serif" font-size="41.67" fill="#262626">
<text x="2236" y="603">-0.2</text>
<text x="2236" y="750">-0.4</text>
<text x="2236" y="897">-0.6</text>
<text x="2236" y="1044">-0.8</text>
</g>
<g fill="none" stroke-linejoin="miter" stroke-miterlimit="10">
<path stroke="#000" stroke-width="4" d="M1046,1010.9L1251.4,1000.6L1407.9,1081L1201.6,1091.6Z"/>
<path stroke="#f00" stroke-width="3.6" d="M1059.1,1031.4L1267.2,1010L1395.3,1060.3L1186.8,1081.9Z"/>
</g>
<g fill="none" stroke="#000" stroke-width="1.9" stroke-dasharray="8.3 4.25">
<line x1="1041" y1="538.9" x2="1041" y2="1009.6"/>
<line x1="1200.9" y1="524.6" x2="1200.9" y2="1092"/>
</g>
<g fill="none" stroke="#f00" stroke-width="1.6" stroke-dasharray="6 3.2">
<line x1="1267" y1="510.2" x2="1267" y2="1009.6"/>
<line x1="1399" y1="475" x2="1399" y2="1061"/>
</g>
<g font-family="'Liberation Sans', Arial, Helvetica, sans-serif" font-size="50.4">
<text x="970.1" y="832.7" text-anchor="middle" fill="#000">H1=200m</text>
<text x="851.1" y="949.8" text-anchor="middle" fill="#000">H2=250m</text>
<text x="1026.4" y="1113.4" text-anchor="middle" fill="#000">L2=350m</text>
<text x="1299.3" y="1152.3" text-anchor="middle" fill="#000">L1=300m</text>
<text x="1547.4" y="848.1" text-anchor="middle" fill="#f00">h1=209m</text>
<text x="1622.2" y="922.6" text-anchor="middle" fill="#f00">h2=233m</text>
<text x="1518" y="1019.5" text-anchor="middle" fill="#f00">l2=311m</text>
<text x="1524.8" y="1105.2" text-anchor="middle" fill="#f00">l1=305m</text>
</g>
</svg>
</body></html>
